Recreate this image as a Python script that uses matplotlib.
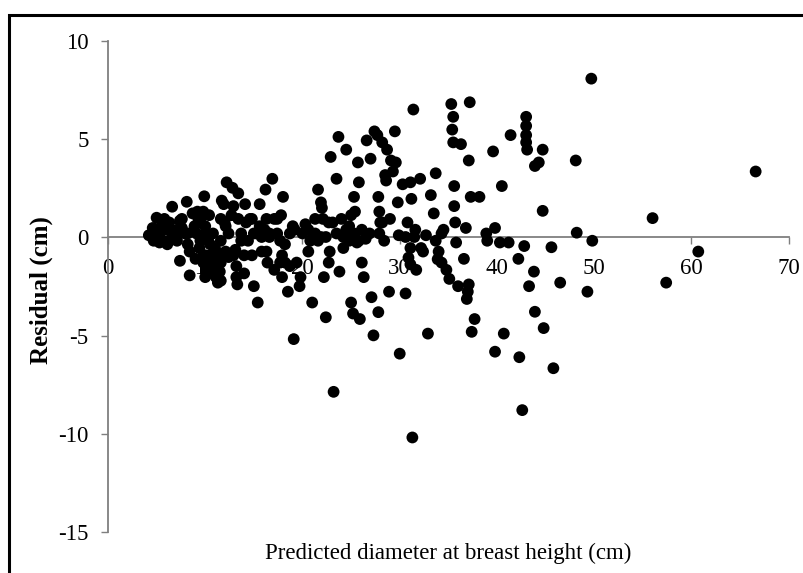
import matplotlib
matplotlib.use("Agg")
import matplotlib.pyplot as plt
from matplotlib.patches import Rectangle

plt.rcParams['font.family'] = ['Liberation Serif', 'DejaVu Serif']
plt.rcParams['axes.unicode_minus'] = False

# predicted DBH (cm) and residual (cm)
predicted = [
    4.2, 4.6, 4.7, 5.0, 5.3, 5.7, 5.8, 6.1, 6.3, 6.6,
    6.9, 7.1, 7.4, 7.4, 7.6, 7.9, 8.1, 8.2, 8.4, 8.7,
    8.9, 9.1, 9.4, 9.5, 9.8, 9.9, 10.0, 10.1, 10.3, 10.4,
    10.5, 10.8, 11.0, 11.1, 11.3, 11.5, 11.6, 11.7, 12.0, 12.1,
    12.2, 12.4, 12.7, 12.8, 12.9, 13.1, 13.2, 13.3, 13.4, 13.7,
    14.0, 14.1, 14.2, 14.4, 14.6, 14.8, 15.0, 15.3, 15.4, 15.6,
    15.8, 16.1, 16.2, 16.3, 16.4, 16.6, 16.9, 17.1, 17.4, 17.7,
    17.8, 17.9, 18.0, 18.2, 18.5, 18.7, 19.1, 19.2, 19.4, 19.7,
    19.8, 20.0, 20.3, 20.6, 20.8, 21.0, 21.3, 21.6, 21.9, 22.0,
    22.1, 22.2, 22.4, 22.4, 22.7, 22.8, 22.9, 23.1, 23.2, 23.5,
    23.7, 23.8, 24.2, 24.5, 24.8, 25.0, 25.2, 25.3, 25.4, 25.6,
    25.7, 25.8, 25.9, 26.1, 26.3, 26.5, 26.6, 26.9, 27.0, 27.1,
    27.3, 27.4, 27.7, 27.8, 27.9, 28.0, 28.2, 28.4, 28.5, 28.6,
    28.7, 28.9, 29.1, 29.3, 29.5, 29.6, 29.8, 29.9, 30.0, 30.3,
    30.6, 30.8, 31.1, 31.2, 31.3, 31.4, 31.5, 31.6, 31.7, 32.1,
    32.4, 32.7, 32.9, 33.2, 33.5, 33.7, 34.0, 34.3, 34.5, 34.8,
    35.1, 35.3, 35.4, 35.5, 35.5, 35.6, 35.6, 35.7, 35.8, 36.0,
    36.3, 36.6, 36.8, 36.9, 37.0, 37.1, 37.1, 37.2, 37.3, 37.4,
    37.7, 38.2, 38.9, 39.0, 39.6, 39.8, 39.8, 40.3, 40.5, 40.7,
    41.2, 41.4, 42.2, 42.3, 42.6, 42.8, 43.0, 43.0, 43.0, 43.0,
    43.1, 43.3, 43.8, 43.9, 43.9, 44.3, 44.7, 44.7, 44.8, 45.6,
    45.8, 46.5, 48.1, 48.2, 49.3, 49.7, 49.8, 56.0, 57.4, 60.7,
    66.6,
    30.9, 31.1, 33.9, 27.8,
    9.8, 10.0, 10.3, 10.5, 10.8, 11.1, 11.3, 11.6, 9.8, 10.0,
    9.5, 9.3, 11.6, 12.1, 11.9, 12.4, 12.9, 13.2, 13.4, 13.7,
    14.0, 15.6, 15.8, 15.0, 14.8, 16.3, 16.6, 17.4, 17.7, 17.1,
    17.9, 18.2, 18.7, 19.0, 20.6, 21.1, 21.3, 21.6, 21.9, 22.7,
    23.5, 24.0, 24.2, 24.5, 24.8, 25.3, 25.8, 26.1, 25.0, 28.2,
    27.9, 29.0, 30.6, 31.1, 32.2, 33.7, 34.3,
    4.7, 5.3, 5.5, 6.1, 6.6, 7.1, 7.6, 8.2, 8.4, 9.0,
    9.2, 9.8, 10.3, 10.8, 10.0, 11.1, 11.3, 11.6,
]
residual = [
    0.11, 0.48, -0.17, 1.0, 0.2, -0.17, 0.94, 0.39, 0.76, 1.56,
    0.2, -0.17, 0.85, -1.19, 0.48, 0.2, 1.81, -0.35, -1.93, 1.22,
    0.57, 0.2, -0.54, 0.94, -0.91, 2.09, 0.57, -1.65, -0.17, 1.13,
    -0.91, 0.2, -0.54, -1.28, -0.91, -1.74, -0.17, 1.87, 0.76, -0.72,
    2.8, 0.2, 1.13, 2.52, 1.59, -0.63, -1.46, -2.39, 2.24, 0.2,
    -1.83, 1.69, 0.76, -0.17, 0.94, -0.91, -2.48, 0.2, -3.31, 1.69,
    -0.72, 0.39, 2.43, 0.94, -1.28, 0.02, 2.98, 0.94, 0.2, -1.28,
    1.13, -2.02, 2.06, -0.35, -2.76, -1.46, -5.17, 0.39, -1.28, -2.48,
    -2.02, 0.2, 0.67, -0.72, -0.17, -3.31, 0.2, 2.43, 1.78, 1.5,
    0.94, -2.02, -4.06, 0.02, -1.28, -0.72, 4.09, 0.76, -7.85, 2.98,
    5.11, -1.74, 0.02, 4.46, 0.57, -3.31, -3.87, 2.06, 1.31, -0.26,
    3.81, 2.8, -4.15, -1.28, -2.02, -0.07, 4.93, 0.2, 4.0, -3.04,
    -4.98, 5.39, 5.2, 2.06, 1.31, 0.76, 4.83, -0.17, 3.17, 2.89,
    4.46, -2.76, 3.91, 3.35, 5.39, 3.81, 1.78, 0.11, -5.91, 2.7,
    -2.85, 0.76, 2.8, 1.96, -10.17, 6.5, 0.02, 0.39, -1.65, 2.98,
    -0.72, 0.11, -4.89, 2.15, 1.22, 3.26, -0.72, -1.28, 0.39, -1.65,
    -2.11, 6.78, 5.48, 6.13, 4.83, 2.61, 1.59, 0.76, -0.26, -2.48,
    4.74, -1.09, 0.48, -3.13, -2.76, -2.39, 3.91, 6.87, 2.06, -4.8,
    -4.15, 2.06, 0.2, -0.17, 4.37, 0.48, -5.81, -0.26, 2.61, -4.89,
    -0.26, 5.2, -1.09, -6.09, -8.78, -0.44, 6.13, 5.67, 5.2, 4.83,
    4.46, -2.48, -1.74, 3.63, -3.78, 3.81, 4.46, 1.35, -4.61, -0.5,
    -6.65, -2.3, 3.91, 0.24, -2.76, 8.07, -0.17, 0.98, -2.3, -0.72,
    3.35,
    -1.03, -1.37, -1.11, -3.8,
    -1.28, -0.91, -1.28, -0.35, -1.09, -0.72, -1.65, -1.28, -0.07, 0.2,
    -0.17, 0.94, 0.94, 0.57, 1.69, -1.0, -0.91, -2.02, 0.94, -0.17,
    -0.91, 0.57, 0.02, 0.2, 0.94, -0.72, 0.2, 0.94, -0.17, -1.65,
    -0.91, -1.28, 0.2, 0.57, 0.39, 0.02, 0.94, -0.17, 0.02, 0.76,
    0.2, 0.94, -0.54, 0.39, -0.17, 0.2, -0.17, 0.39, 1.13, 0.76,
    0.2, 0.94, 0.02, -0.54, -0.54, -0.17, 0.2,
    0.2, -0.26, 0.57, -0.35, 0.02, 0.39, 0.94, 0.2, -0.72, -1.09,
    1.31, 1.31, -1.65, -1.83, -2.02, -2.02, -2.3, -2.2,
]

xticks = [0, 10, 20, 30, 40, 50, 60, 70]
yticks = [-15, -10, -5, 0, 5, 10]
axis_grey = '#7f7f7f'

fig = plt.figure(figsize=(8.04, 5.73), dpi=100)
ax = fig.add_axes([0.1343, 0.0707, 0.8467, 0.8583])

ax.scatter(predicted, residual, s=72, c='black', edgecolors='none', zorder=3)

ax.set_xlim(0, 70)
ax.set_ylim(-15, 10)
ax.set_xticks(xticks)
ax.set_yticks(yticks)

ax.spines['top'].set_visible(False)
ax.spines['right'].set_visible(False)
ax.spines['bottom'].set_position(('data', 0))
for side in ['bottom', 'left']:
    ax.spines[side].set_color(axis_grey)
    ax.spines[side].set_linewidth(1.3)

ax.tick_params(axis='x', direction='out', length=5, width=1, color=axis_grey,
               pad=10, labelsize=16.5)
ax.tick_params(axis='y', direction='out', length=5, width=1, color=axis_grey,
               pad=9, labelsize=16.5)

fig.text(41 / 804, 1 - 290 / 573, 'Residual (cm)', rotation=90,
         ha='center', va='center', fontsize=18, fontweight='bold')
fig.text(448 / 804, 1 - 553 / 573, 'Predicted diameter at breast height (cm)',
         ha='center', va='center', fontsize=16.5)

# outer chart border (only top and left edges are inside the picture)
fig.patches.append(Rectangle((9 / 804, -0.05), 1.0, 1 - 15 / 573 + 0.05,
                             transform=fig.transFigure, fill=False,
                             lw=2.2, ec='black'))

fig.savefig('out.png', dpi=100)
